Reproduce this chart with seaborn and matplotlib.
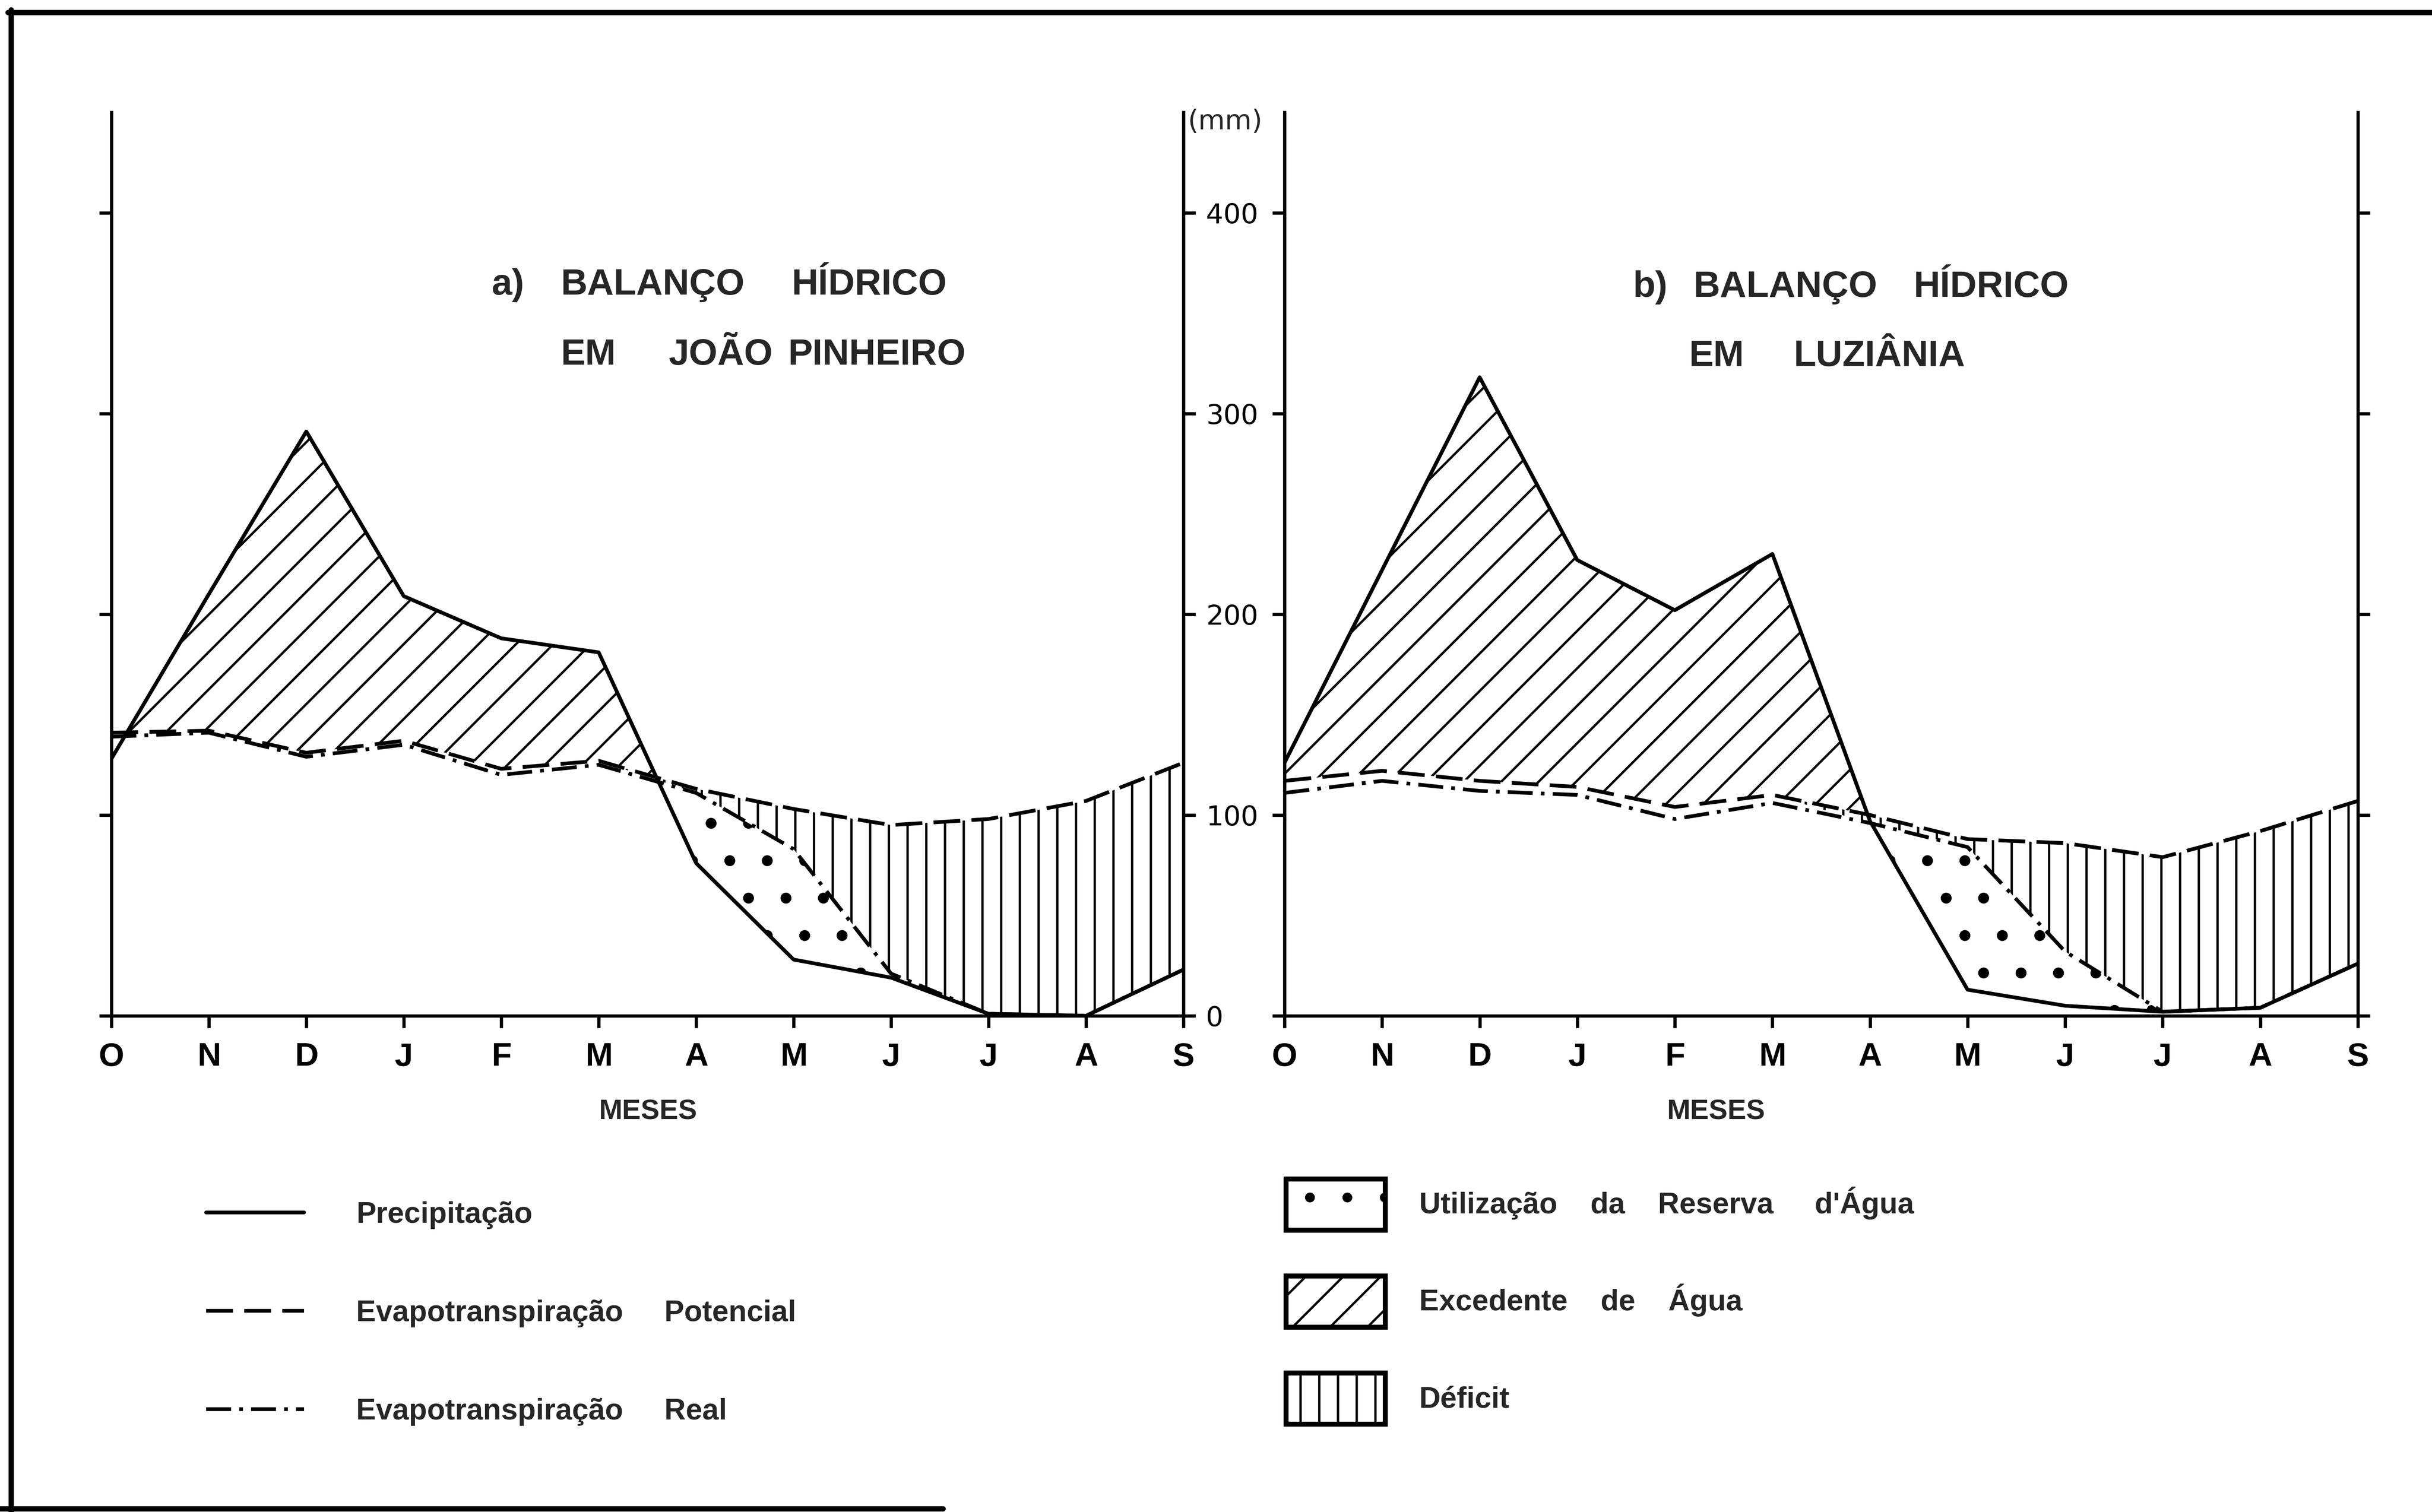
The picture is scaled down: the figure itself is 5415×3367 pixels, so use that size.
import matplotlib
matplotlib.use("Agg")
import matplotlib.pyplot as plt
from matplotlib.lines import Line2D
from matplotlib.patches import Patch
from matplotlib.font_manager import FontProperties
import numpy as np
import pandas as pd
import seaborn as sns

# ---------------------------------------------------------------- data
meses = ["O", "N", "D", "J", "F", "M", "A", "M", "J", "J", "A", "S"]

# a) João Pinheiro (mm)
jp_precipitacao = [128, 210, 291, 209, 188, 181, 76, 28, 19, 1, 0, 23]
jp_etp = [141, 142, 131, 137, 123, 127, 113, 103, 95, 98, 107, 126]
jp_etr = [139, 141, 129, 135, 120, 125, 111, 83, 21, 1, 0, 23]

# b) Luziânia (mm)
lz_precipitacao = [126, 222, 318, 227, 202, 230, 97, 13, 5, 2, 4, 26]
lz_etp = [117, 122, 117, 114, 104, 110, 100, 88, 86, 79, 92, 107]
lz_etr = [111, 117, 112, 110, 98, 106, 96, 84, 32, 2, 4, 26]

y_ticks = [0, 100, 200, 300, 400]

series = ["Precipitação", "Evapotranspiração Potencial", "Evapotranspiração Real"]
series_rotulos = ["Precipitação", "Evapotranspiração     Potencial",
                  "Evapotranspiração     Real"]
areas_rotulos = ["Utilização    da    Reserva     d'Água",
                 "Excedente    de    Água", "Déficit"]

titulo_a = [("a)", 1095, 635), ("BALANÇO", 1249, 635), ("HÍDRICO", 1763, 635),
            ("EM", 1249, 791), ("JOÃO", 1489, 791), ("PINHEIRO", 1755, 791)]
titulo_b = [("b)", 3636, 640), ("BALANÇO", 3770, 640), ("HÍDRICO", 4260, 640),
            ("EM", 3761, 794), ("LUZIÂNIA", 3993, 794)]

# ---------------------------------------------------------------- style
W, H, DPI = 5415, 3367, 500
sns.set_theme(style="white")
plt.rcParams["font.family"] = ["Liberation Sans", "DejaVu Sans"]
plt.rcParams["lines.scale_dashes"] = False
plt.rcParams["hatch.linewidth"] = 0.75
plt.rcParams["hatch.color"] = "black"

LW = 1.2
DASH_ETP = (8.6, 3.6)
DASH_ETR = (8.0, 2.6, 1.2, 2.6)
estilos = {series[0]: "", series[1]: DASH_ETP, series[2]: DASH_ETR}

HATCH_EXC = "//"
HATCH_RES = "."
HATCH_DEF = "||"

fonte_titulo = FontProperties(family=["Liberation Sans", "DejaVu Sans"], weight="bold", size=11.8)
fonte_meses = FontProperties(family=["Liberation Sans Narrow", "Liberation Sans", "DejaVu Sans"],
                             weight="bold", size=10.5)
fonte_legenda = FontProperties(family=["Liberation Sans", "DejaVu Sans"], weight="bold", size=9.5)
fonte_mm = FontProperties(family=["DejaVu Sans"], size=8.8)

fig = plt.figure(figsize=(W / DPI, H / DPI), dpi=DPI)
fig.patch.set_facecolor("white")


def fx(px):
    return px / W


def fy(py):
    return 1 - py / H


ax_a = fig.add_axes([fx(248), fy(2262), fx(2635 - 248), (2262 - 250) / H])
ax_b = fig.add_axes([fx(2860), fy(2262), fx(5250 - 2860), (2262 - 250) / H])


def painel(ax, prec, etp, etr, rotulos_y, meses_x):
    x = np.arange(len(meses))
    p, e, r = (np.asarray(v, dtype=float) for v in (prec, etp, etr))

    # excedente (P > ETP), utilização da reserva (ETR > P), déficit (ETP > ETR)
    ax.fill_between(x, p, e, where=p >= e, interpolate=True, facecolor="none",
                    edgecolor="black", hatch=HATCH_EXC, linewidth=0, zorder=1)
    with plt.rc_context({"hatch.linewidth": 1.1}):
        ax.fill_between(x, r, p, where=(r > p) & (x >= 4), interpolate=True,
                        facecolor="none", edgecolor="black", hatch=HATCH_RES,
                        linewidth=0, zorder=1)
    ax.fill_between(x, e, r, where=(p < e) & (x >= 4), interpolate=True,
                    facecolor="none", edgecolor="black", hatch=HATCH_DEF, linewidth=0, zorder=1)

    df = pd.DataFrame({
        "mes": np.tile(x, 3),
        "mm": np.concatenate([p, e, r]),
        "serie": np.repeat(series, len(x)),
    })
    sns.lineplot(data=df, x="mes", y="mm", style="serie", style_order=series,
                 dashes=estilos, color="black", linewidth=LW, legend=False,
                 errorbar=None, ax=ax, zorder=3)

    ax.set_xlim(0, len(meses) - 1)
    ax.set_ylim(0, 450)
    ax.set_xticks(x)
    ax.set_xticklabels(meses)
    ax.set_yticks(y_ticks)
    ax.set_ylabel("")
    ax.set_facecolor("none")
    for s in ("left", "right", "bottom"):
        ax.spines[s].set_visible(True)
        ax.spines[s].set_color("black")
        ax.spines[s].set_linewidth(1.05)
    ax.spines["top"].set_visible(False)
    ax.tick_params(axis="x", bottom=True, direction="out", length=3.9, width=1.05,
                   pad=4.5, colors="black")
    ax.tick_params(axis="y", left=True, right=True, direction="out", length=3.9,
                   width=1.05, labelleft=False, labelright=rotulos_y, pad=3.3,
                   colors="black")
    for lbl in ax.get_xticklabels():
        lbl.set_fontproperties(fonte_meses)
    for lbl in ax.get_yticklabels():
        lbl.set_fontproperties(fonte_mm)

    ax.set_xlabel("MESES", fontproperties=FontProperties(
        family=["Liberation Sans", "DejaVu Sans"], weight="bold", size=9))
    ax.xaxis.set_label_coords(meses_x, -0.1064)
    ax.xaxis.label.set_va("center")


painel(ax_a, jp_precipitacao, jp_etp, jp_etr, True, 0.5006)
painel(ax_b, lz_precipitacao, lz_etp, lz_etr, False, 0.402)

fig.text(fx(2645), fy(272), "(mm)", ha="left", va="center", fontproperties=fonte_mm)

for palavra, px, py in titulo_a + titulo_b:
    fig.text(fx(px), fy(py), palavra, ha="left", va="center", fontproperties=fonte_titulo)

# ---------------------------------------------------------------- legends
h_linhas = [
    Line2D([], [], color="black", lw=LW, linestyle="-"),
    Line2D([], [], color="black", lw=LW, linestyle=(0, DASH_ETP)),
    Line2D([], [], color="black", lw=LW, linestyle=(0, DASH_ETR)),
]
fig.legend(h_linhas, series_rotulos, loc="center left",
           bbox_to_anchor=(fx(459), fy(2925)), frameon=False, prop=fonte_legenda,
           handlelength=3.3, handletextpad=1.77, labelspacing=2.38,
           borderpad=0, borderaxespad=0)

with plt.rc_context({"hatch.linewidth": 1.1}):
    h_res = Patch(facecolor="white", edgecolor="black", hatch=HATCH_RES, linewidth=1.6)
h_areas = [
    h_res,
    Patch(facecolor="white", edgecolor="black", hatch=HATCH_EXC, linewidth=1.6),
    Patch(facecolor="white", edgecolor="black", hatch=HATCH_DEF, linewidth=1.6),
]
fig.legend(h_areas, areas_rotulos, loc="center left",
           bbox_to_anchor=(fx(2863), fy(2898)), frameon=False, prop=fonte_legenda,
           handlelength=3.35, handleheight=2.28, handletextpad=1.15, labelspacing=1.55,
           borderpad=0, borderaxespad=0)

# ---------------------------------------------------------------- frame
for xs, ys in (([fx(18), 1.0], [fy(28), fy(28)]),
               ([fx(25), fx(25)], [0.0, fy(22)]),
               ([0.0, fx(2100)], [fy(3360), fy(3360)])):
    fig.add_artist(Line2D(xs, ys, transform=fig.transFigure, color="black", lw=1.7))

fig.savefig("out.png", dpi=DPI, facecolor="white")
